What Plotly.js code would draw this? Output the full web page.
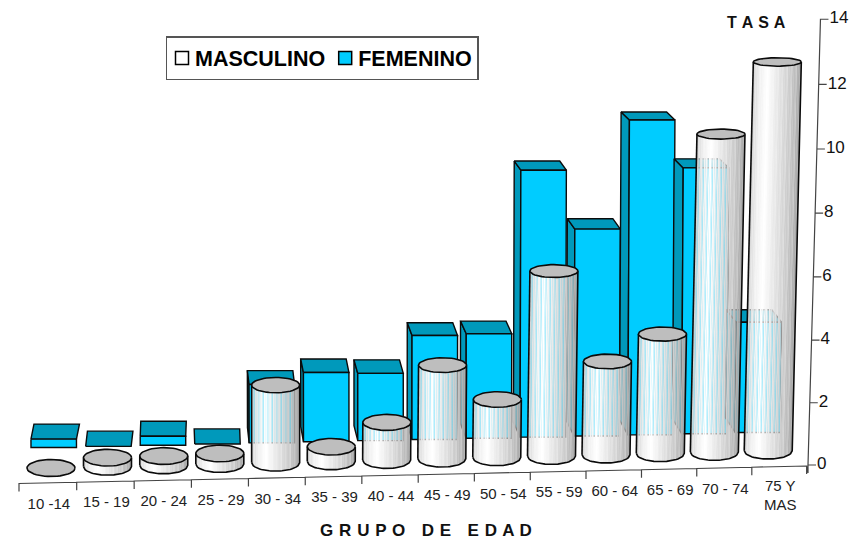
<!DOCTYPE html>
<html><head><meta charset="utf-8">
<script src="https://cdn.plot.ly/plotly-3.0.1.min.js"></script>
<style>html,body{margin:0;padding:0;background:#fff}
.legend .legendsymbols{transform:translateX(7px)}
.annotation-text{letter-spacing:.55px}</style></head>
<body><div id="chart" style="width:852px;height:539px"></div>
<script>
const categories=["10 -14","15 - 19","20 - 24","25 - 29","30 - 34","35 - 39","40 - 44","45 - 49","50 - 54","55 - 59","60 - 64","65 - 69","70 - 74","75 Y<br>MAS"];
const masculino=[0,0.29,0.3,0.34,2.49,0.47,1.21,3.0,1.86,5.9,2.99,3.82,10.06,12.25];
const femenino=[0.29,0,0.31,0,2.02,2.39,2.32,3.58,3.6,9.1,7.08,10.7,9.06,3.8];
const valueTicks=[0,2,4,6,8,10,12,14];
const FONT='"Liberation Sans",Arial,sans-serif';
const FRONT='#00CCFF',SIDE='#0099BB',CAP='#BEBEBE',INK='#0b0b0b';

// oblique projection of the chart's 3D box onto the page
const rise=v=>31*v+0.06*v*v;
const axisX=v=>808+v*0.89, axisY=v=>465-rise(v);
const tickX=j=>19+57.8*j-0.11*j*j, tickY=j=>483.5-1.25*j;
const manX=i=>51+56.6*i-0.11*i*i, manY=i=>468-1.33*i;
const manLean=i=>Math.max(0,i-4)*0.0026;
const ry=y=>4+(y-40)*0.0105;
const womanX=i=>31+54.7*i-0.04*i*i, womanY=i=>447.5-1.15*i;
const womanW=45.5, womanScale=0.93;
const depthDx=i=>3-1.25*i+0.02*i*i, depthDy=y=>-(8+(y-120)*0.022);

const traces=[];
const poly=(pts,fill,lw,extra)=>Object.assign({type:'scatter',mode:lw?'lines':'none',x:pts.map(p=>p?p[0]:null),y:pts.map(p=>p?p[1]:null),fill:'toself',fillcolor:fill,line:{color:INK,width:lw||0},hoverinfo:'skip',showlegend:false},extra||{});

// FEMENINO: boxes, left to right
femenino.forEach((v,i)=>{
  const b=womanY(i),h=rise(v)*womanScale,t=b-h,lean=(i-6)*0.001*h,xl=womanX(i),dx=depthDx(i);
  const dT=depthDy(t),dB=depthDy(b);
  const FLt=[xl+lean,t],FRt=[xl+womanW+lean,t],FLb=[xl,b],FRb=[xl+womanW,b];
  if(dx<-0.5&&h>0) traces.push(poly([FLt,[FLt[0]+dx,t+dT],[xl+dx,b+dB],FLb,FLt],SIDE,1.4));
  traces.push(poly([FLt,[FLt[0]+dx,t+dT],[FRt[0]+dx,t+dT],FRt,FLt],SIDE,1.4));
  if(h>0) traces.push(poly([FLt,FRt,FRb,FLb,FLt],FRONT,1.4));
});

// MASCULINO: cylinders built from narrow shaded strips; every third strip is slightly see-through
const RX=24,STRIPS=32;
const stops=[[0,208],[0.12,238],[0.3,255],[0.45,238],[0.62,220],[0.8,200],[0.94,176],[1,160]];
const shade=t=>{for(let k=1;k<stops.length;k++){if(t<=stops[k][0]){const a=stops[k-1],b=stops[k],g=Math.round(a[1]+(b[1]-a[1])*(t-a[0])/(b[0]-a[0]));return `rgb(${g},${g},${g})`;}}return 'rgb(160,160,160)';};
const cyl=i=>{const v=masculino[i],h=rise(v),by=manY(i),ty=by-h,bx=manX(i),tx=bx+h*manLean(i);return{h,by,ty,bx,tx,rb:ry(by),rt:ry(ty)};};
const arc=t=>Math.sqrt(Math.max(0,1-(2*t-1)*(2*t-1)));
for(let s=0;s<STRIPS;s++){
  const see=s%3==1;
  const t0=s/STRIPS,t1=(s+1)/STRIPS+(see?0:0.006),pts=[];
  masculino.forEach((v,i)=>{
    const c=cyl(i); if(c.h<=0) return;
    const P=(t,top)=>top?[c.tx+RX*(2*t-1),c.ty+c.rt*arc(t)]:[c.bx+RX*(2*t-1),c.by+c.rb*arc(t)];
    pts.push(P(t0,true),P(Math.min(t1,1),true),P(Math.min(t1,1),false),P(t0,false),P(t0,true),null);
  });
  traces.push(poly(pts,shade((s+0.5)/STRIPS),0,{opacity:see?0.82:1}));
}
const outline=[],caps=[];
masculino.forEach((v,i)=>{
  const c=cyl(i);
  if(c.h>0){
    for(let k=0;k<=30;k++){const t=k/30;outline.push([c.bx+RX*(2*t-1),c.by+c.rb*arc(t)]);}
    outline.push([c.tx+RX,c.ty],null,[c.tx-RX,c.ty],[c.bx-RX,c.by],null);
  }
  for(let k=0;k<=48;k++){const a=k/48*2*Math.PI;caps.push([c.tx+RX*Math.cos(a),c.ty+c.rt*Math.sin(a)]);}
  caps.push(null);
});
traces.push({type:'scatter',mode:'lines',x:outline.map(p=>p?p[0]:null),y:outline.map(p=>p?p[1]:null),line:{color:INK,width:1.6},hoverinfo:'skip',showlegend:false});
traces.push(poly(caps,CAP,1.6));

// axes
const axis=[[tickX(0),tickY(0)+8],[tickX(0),tickY(0)]];
categories.forEach((c,i)=>{axis.push([tickX(i+1),tickY(i+1)],[tickX(i+1),tickY(i+1)+8],[tickX(i+1),tickY(i+1)]);});
axis.push([axisX(0),axisY(0)+8],[axisX(0),axisY(0)]);
valueTicks.forEach(v=>{axis.push([axisX(v),axisY(v)],[axisX(v)+8,axisY(v)],[axisX(v),axisY(v)]);});
traces.push({type:'scatter',mode:'lines',x:axis.map(p=>p[0]),y:axis.map(p=>p[1]),line:{color:'#444',width:1.2},hoverinfo:'skip',showlegend:false});
traces.push({type:'scatter',mode:'text',x:valueTicks.map(v=>axisX(v)+9),y:valueTicks.map(v=>axisY(v)),text:valueTicks.map(String),textposition:'middle right',textfont:{family:FONT,size:17,color:'#111'},hoverinfo:'skip',showlegend:false});
traces.push({type:'scatter',mode:'text',x:categories.map((c,i)=>tickX(i+0.5)+1),y:categories.map((c,i)=>tickY(i+0.5)+(i==13?30:22)),text:categories,textposition:'middle center',textfont:{family:FONT,size:15,color:'#222'},hoverinfo:'skip',showlegend:false});

// legend entries
traces.push({type:'scatter',mode:'markers',x:[null],y:[null],name:'MASCULINO',marker:{symbol:'square',size:13,color:'#fff',line:{color:'#000',width:1.5}}});
traces.push({type:'scatter',mode:'markers',x:[null],y:[null],name:'FEMENINO',marker:{symbol:'square',size:13,color:FRONT,line:{color:'#000',width:1.5}}});

const spaced=s=>s.split(' ').map(w=>w.split('').join(' ')).join('\u00a0\u00a0\u00a0');
const layout={width:852,height:539,margin:{l:0,r:0,t:0,b:0},paper_bgcolor:'#fff',plot_bgcolor:'#fff',
 xaxis:{range:[0,852],visible:false,fixedrange:true},yaxis:{range:[539,0],visible:false,fixedrange:true},
 legend:{orientation:'h',x:165.5/852,y:1-36/539,xanchor:'left',yanchor:'top',bgcolor:'#fff',bordercolor:'#555',borderwidth:1.5,font:{family:FONT,size:21.5,weight:'bold',color:'#000'},itemwidth:30,indentation:-12},
 annotations:[
  {xref:'x',yref:'y',x:756,y:22,text:spaced('TASA'),showarrow:false,font:{family:FONT,size:16,weight:'bold',color:'#111'}},
  {xref:'x',yref:'y',x:426,y:530,text:spaced('GRUPO DE EDAD'),showarrow:false,font:{family:FONT,size:17,weight:'bold',color:'#111'}}
 ]};
Plotly.newPlot('chart',traces,layout,{displayModeBar:false,staticPlot:true});
</script></body></html>
